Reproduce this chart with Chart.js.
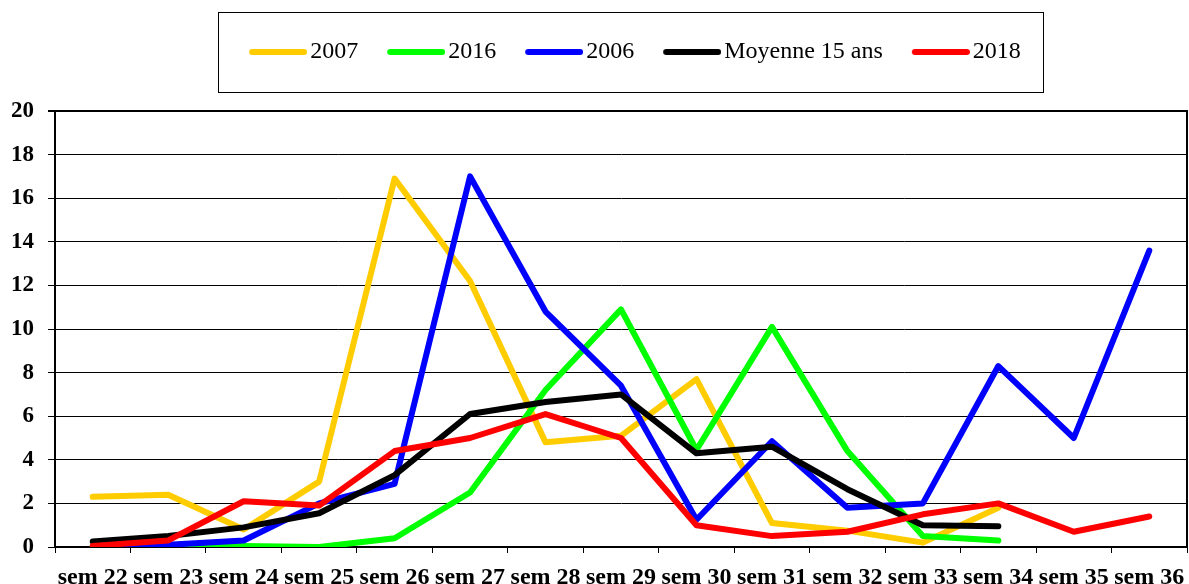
<!DOCTYPE html>
<html><head><meta charset="utf-8">
<script src="https://cdn.jsdelivr.net/npm/chart.js@4.4.1/dist/chart.umd.min.js"></script>
<style>html,body{margin:0;padding:0;background:#fff;overflow:hidden}#wrap{width:1189px;height:584px}</style>
</head><body><div id="wrap"><canvas id="c" width="1189" height="584"></canvas></div>
<script>
const weeks = ['sem 22','sem 23','sem 24','sem 25','sem 26','sem 27','sem 28','sem 29','sem 30','sem 31','sem 32','sem 33','sem 34','sem 35','sem 36'];
const seriesLabels = ['2007','2016','2006','Moyenne 15 ans','2018'];
const y2007 = [2.3,2.4,0.8,3.0,16.9,12.2,4.8,5.1,7.7,1.1,0.75,0.2,1.8,null,null];
const y2016 = [0,0,0.05,0,0.4,2.5,7.2,10.9,4.45,10.1,4.4,0.5,0.3,null,null];
const y2006 = [0,0.1,0.3,2.0,2.9,17.0,10.8,7.4,1.25,4.85,1.8,2.0,8.3,5.0,13.6];
const yMoy  = [0.25,0.5,0.9,1.55,3.3,6.1,6.65,7.0,4.3,4.6,2.65,1.0,0.95,null,null];
const y2018 = [0.05,0.3,2.1,1.9,4.4,5.0,6.1,5.0,1.0,0.5,0.7,1.5,2.0,0.7,1.4];
const yTicks = [0,2,4,6,8,10,12,14,16,18,20];
const colors = ['#FFCC00','#00FF00','#0000FF','#000000','#FF0000'];

const SERIF = "'Liberation Serif','Times New Roman',serif";
const LEGEND_EXTRA = 37;
const LEGEND_SHIFT = 40;

// legend line symbols (long line ending close to the text, like the original)
function legendSymbol(color) {
  const cv = document.createElement('canvas');
  cv.width = 68; cv.height = 10;
  const g = cv.getContext('2d');
  g.strokeStyle = color; g.lineWidth = 6; g.lineCap = 'round';
  g.beginPath(); g.moveTo(13, 5); g.lineTo(65, 5); g.stroke();
  return cv;
}
const legendSymbols = colors.map(legendSymbol);

const legendTweak = {
  id: 'legendTweak',
  beforeLayout(chart) {
    const lg = chart.legend;
    if (lg && !lg._tweaked) {
      const orig = lg.fit;
      lg.fit = function () {
        orig.apply(this, arguments);
        this.height += LEGEND_EXTRA;
        if (this.lineWidths && this.lineWidths.length) this.lineWidths[0] -= 2 * LEGEND_SHIFT;
      };
      lg._tweaked = true;
    }
  },
  afterDraw(chart) {
    const lg = chart.legend;
    if (!lg || !lg.legendHitBoxes || !lg.legendHitBoxes.length) return;
    const hb = lg.legendHitBoxes;
    const first = hb[0], last = hb[hb.length - 1];
    const cy = first.top + first.height / 2;
    const ctx = chart.ctx;
    ctx.save();
    ctx.strokeStyle = '#000';
    ctx.lineWidth = 1;
    const l = Math.round(first.left - 30) + 0.5;
    const r = Math.round(last.left + last.width + 22) + 0.5;
    const t = Math.round(cy - 40) + 0.5;
    const b = Math.round(cy + 40) + 0.5;
    ctx.strokeRect(l, t, r - l, b - t);
    ctx.restore();
  }
};

const seriesData = [y2007, y2016, y2006, yMoy, y2018];
const datasets = seriesData.map((d, i) => ({
  label: seriesLabels[i],
  data: d,
  borderColor: colors[i],
  backgroundColor: colors[i],
  borderWidth: 6,
  borderCapStyle: 'round',
  borderJoinStyle: 'round',
  pointRadius: 0,
  pointHoverRadius: 0,
  tension: 0,
  fill: false,
  order: seriesData.length - i
}));

new Chart(document.getElementById('c'), {
  type: 'line',
  data: { labels: weeks, datasets },
  plugins: [legendTweak],
  options: {
    responsive: false,
    animation: false,
    devicePixelRatio: 1,
    layout: { padding: { top: 12, left: 0, right: 0, bottom: 0 } },
    plugins: {
      tooltip: { enabled: false },
      legend: {
        position: 'top',
        labels: {
          usePointStyle: true,
          pointStyleWidth: 50,
          padding: 28,
          color: '#000',
          font: { family: SERIF, size: 24, weight: 'normal' },
          sort: (a, b) => a.datasetIndex - b.datasetIndex,
          generateLabels(chart) {
            return Chart.defaults.plugins.legend.labels.generateLabels(chart)
              .map(it => Object.assign({}, it, { pointStyle: legendSymbols[it.datasetIndex] }));
          }
        }
      }
    },
    scales: {
      x: {
        type: 'category',
        offset: true,
        grid: { offset: true, drawOnChartArea: false, drawTicks: true, tickLength: 6, color: '#000', lineWidth: 1 },
        border: { display: true, color: '#000', width: 2 },
        ticks: { color: '#000', font: { family: SERIF, size: 24, weight: 'bold' }, maxRotation: 0, minRotation: 0, autoSkip: false, padding: 10 },
        afterFit(s) { s.height = 37; s.paddingLeft = 0; s.paddingRight = 0; }
      },
      y: {
        min: 0, max: 20,
        afterBuildTicks(s) { s.ticks = yTicks.map(v => ({ value: v })); },
        grid: { color: '#000', lineWidth: (c) => (c.tick && c.tick.value === 20 ? 2 : 1), tickLength: 7, drawTicks: true },
        border: { display: true, color: '#000', width: 2 },
        ticks: { color: '#000', font: { family: SERIF, size: 23, weight: 'bold' }, padding: 14 },
        afterFit(s) { s.width = 55; }
      },
      y2: {
        position: 'right',
        min: 0, max: 20,
        grid: { drawOnChartArea: false, drawTicks: false },
        border: { display: true, color: '#000', width: 2 },
        ticks: { display: false },
        afterFit(s) { s.width = 2; }
      }
    }
  }
});
</script></body></html>
